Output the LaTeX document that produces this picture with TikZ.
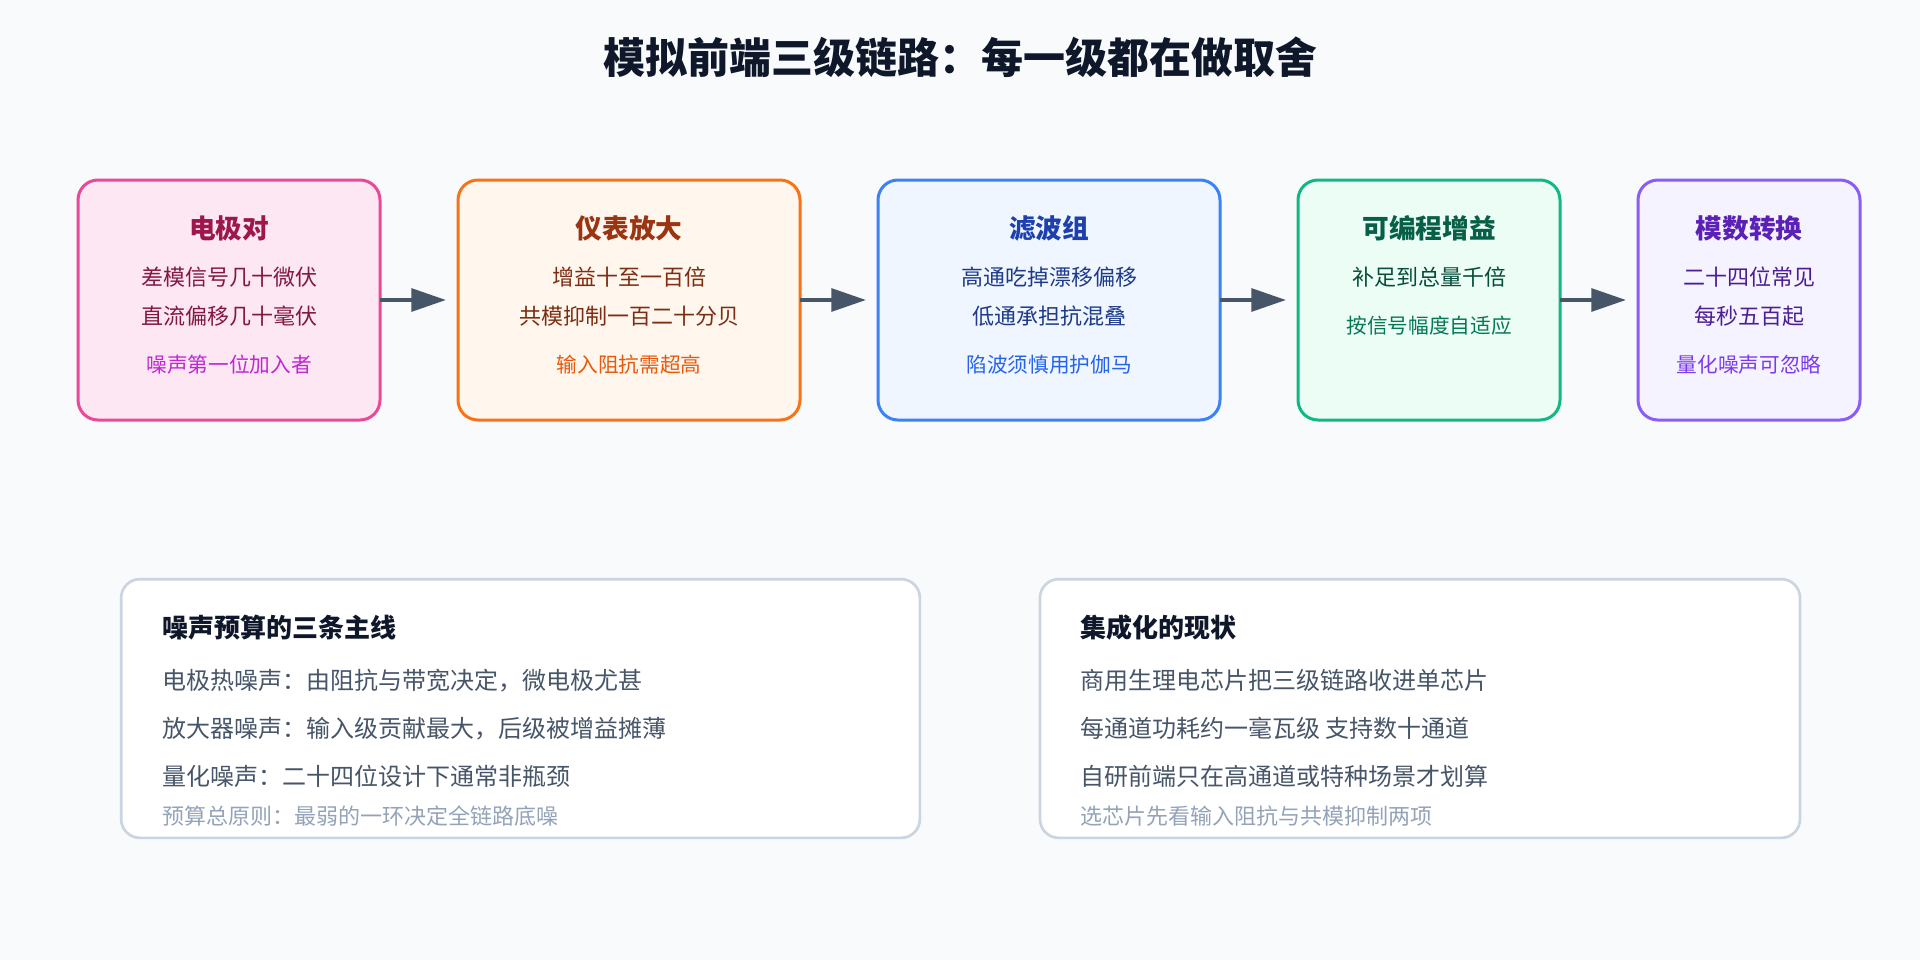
\documentclass[tikz,border=0pt]{standalone}
\usepackage{fontspec}
\setmainfont{Noto Sans CJK SC}
\usetikzlibrary{arrows.meta,calc,positioning}

\definecolor{bgc}{HTML}{F8FAFC}
\definecolor{titleC}{HTML}{0F172A}
\definecolor{pinkB}{HTML}{EC4899}\definecolor{pinkF}{HTML}{FCE7F3}
\definecolor{pinkT}{HTML}{9D174D}\definecolor{pinkD}{HTML}{831843}\definecolor{pinkN}{HTML}{C026D3}
\definecolor{oranB}{HTML}{F97316}\definecolor{oranF}{HTML}{FFF7ED}
\definecolor{oranT}{HTML}{9A3412}\definecolor{oranD}{HTML}{7C2D12}\definecolor{oranN}{HTML}{EA580C}
\definecolor{blueB}{HTML}{3B82F6}\definecolor{blueF}{HTML}{EFF6FF}
\definecolor{blueT}{HTML}{1E40AF}\definecolor{blueD}{HTML}{1E3A8A}\definecolor{blueN}{HTML}{2563EB}
\definecolor{grenB}{HTML}{10B981}\definecolor{grenF}{HTML}{ECFDF5}
\definecolor{grenT}{HTML}{065F46}\definecolor{grenD}{HTML}{064E3B}\definecolor{grenN}{HTML}{047857}
\definecolor{purpB}{HTML}{8B5CF6}\definecolor{purpF}{HTML}{F5F3FF}
\definecolor{purpT}{HTML}{5B21B6}\definecolor{purpD}{HTML}{4C1D95}\definecolor{purpN}{HTML}{7C3AED}
\definecolor{panelB}{HTML}{CBD5E1}
\definecolor{bodyC}{HTML}{475569}
\definecolor{noteC}{HTML}{94A3B8}
\definecolor{arrowC}{HTML}{475569}

\begin{document}
\begin{tikzpicture}[x=0.75pt,y=-0.75pt,
stage/.style={draw,rectangle,rounded corners=15pt,line width=2.25pt,minimum height=180pt,outer sep=0pt},
stitle/.style={font=\bfseries\fontsize{20pt}{24pt}\selectfont,inner sep=0pt},
sbody/.style={font=\fontsize{16.5pt}{20pt}\selectfont,inner sep=0pt},
snote/.style={font=\fontsize{15.5pt}{19pt}\selectfont,inner sep=0pt},
panel/.style={draw=panelB,fill=white,rectangle,rounded corners=14pt,line width=2pt,minimum height=194pt,outer sep=0pt},
ptitle/.style={font=\bfseries\fontsize{19.5pt}{23pt}\selectfont,text=titleC,anchor=west,inner sep=0pt},
pbody/.style={font=\fontsize{18pt}{22pt}\selectfont,text=bodyC,anchor=west,inner sep=0pt},
pnote/.style={font=\fontsize{16.5pt}{20pt}\selectfont,text=noteC,anchor=west,inner sep=0pt},
flow/.style={draw=arrowC,line width=3pt,-{Triangle[length=26pt,width=17pt]},shorten >=9pt}]

\fill[bgc] (0,0) rectangle (1920,960);
\useasboundingbox (0,0) rectangle (1920,960);

\node[font=\bfseries\fontsize{31.5pt}{36pt}\selectfont,text=titleC] (head) at (960,57) {模拟前端三级链路：每一级都在做取舍};

% the chain
\node [stage, draw=pinkB, fill=pinkF, minimum width=226.5pt] (elec) at (229,300) {};
\node [stage, draw=oranB, fill=oranF, minimum width=256.5pt, right=58.5pt of elec] (amp) {};
\node [stage, draw=blueB, fill=blueF, minimum width=256.5pt, right=58.5pt of amp] (filt) {};
\node [stage, draw=grenB, fill=grenF, minimum width=196.5pt, right=58.5pt of filt] (pga) {};
\node [stage, draw=purpB, fill=purpF, minimum width=166.5pt, right=58.5pt of pga] (adc) {};

\node [stitle, text=pinkT] at ($(elec.north)+(0,48)$) {电极对};
\node [sbody, text=pinkD] at ($(elec.north)+(0,97)$) {差模信号几十微伏};
\node [sbody, text=pinkD] at ($(elec.north)+(0,136)$) {直流偏移几十毫伏};
\node [snote, text=pinkN] at ($(elec.north)+(0,185)$) {噪声第一位加入者};

\node [stitle, text=oranT] at ($(amp.north)+(0,48)$) {仪表放大};
\node [sbody, text=oranD] at ($(amp.north)+(0,97)$) {增益十至一百倍};
\node [sbody, text=oranD] at ($(amp.north)+(0,136)$) {共模抑制一百二十分贝};
\node [snote, text=oranN] at ($(amp.north)+(0,185)$) {输入阻抗需超高};

\node [stitle, text=blueT] at ($(filt.north)+(0,48)$) {滤波组};
\node [sbody, text=blueD] at ($(filt.north)+(0,97)$) {高通吃掉漂移偏移};
\node [sbody, text=blueD] at ($(filt.north)+(0,136)$) {低通承担抗混叠};
\node [snote, text=blueN] at ($(filt.north)+(0,185)$) {陷波须慎用护伽马};

\node [stitle, text=grenT] at ($(pga.north)+(0,48)$) {可编程增益};
\node [sbody, text=grenD] at ($(pga.north)+(0,97)$) {补足到总量千倍};
\node [snote, text=grenN] at ($(pga.north)+(0,146)$) {按信号幅度自适应};

\node [stitle, text=purpT] at ($(adc.north)+(0,48)$) {模数转换};
\node [sbody, text=purpD] at ($(adc.north)+(0,97)$) {二十四位常见};
\node [sbody, text=purpD] at ($(adc.north)+(0,136)$) {每秒五百起};
\node [snote, text=purpN] at ($(adc.north)+(0,185)$) {量化噪声可忽略};

\draw [flow] (elec) -- (amp);
\draw [flow] (amp) -- (filt);
\draw [flow] (filt) -- (pga);
\draw [flow] (pga) -- (adc);

% bottom panels
\node [panel, minimum width=599pt] (noise) at (520.5,708.5) {};
\node [panel, minimum width=570pt] (integ) at (1420,708.5) {};

\node [ptitle] at ($(noise.north west)+(41,48)$) {噪声预算的三条主线};
\node [pbody] at ($(noise.north west)+(41,101)$) {电极热噪声：由阻抗与带宽决定，微电极尤甚};
\node [pbody] at ($(noise.north west)+(41,149)$) {放大器噪声：输入级贡献最大，后级被增益摊薄};
\node [pbody] at ($(noise.north west)+(41,197)$) {量化噪声：二十四位设计下通常非瓶颈};
\node [pnote] at ($(noise.north west)+(41,237)$) {预算总原则：最弱的一环决定全链路底噪};

\node [ptitle] at ($(integ.north west)+(40,48)$) {集成化的现状};
\node [pbody] at ($(integ.north west)+(40,101)$) {商用生理电芯片把三级链路收进单芯片};
\node [pbody] at ($(integ.north west)+(40,149)$) {每通道功耗约一毫瓦级 支持数十通道};
\node [pbody] at ($(integ.north west)+(40,197)$) {自研前端只在高通道或特种场景才划算};
\node [pnote] at ($(integ.north west)+(40,237)$) {选芯片先看输入阻抗与共模抑制两项};
\end{tikzpicture}
\end{document}
